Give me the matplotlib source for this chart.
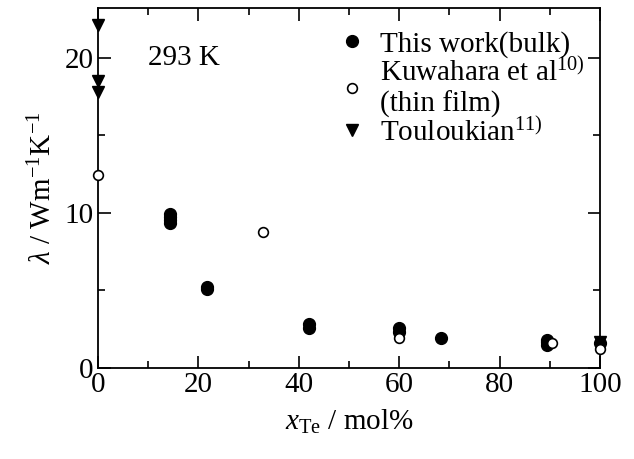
import matplotlib.pyplot as plt
from matplotlib.ticker import MultipleLocator

plt.rcParams['font.family'] = 'Liberation Serif'
plt.rcParams['mathtext.fontset'] = 'custom'
plt.rcParams['mathtext.rm'] = 'Liberation Serif'
plt.rcParams['mathtext.it'] = 'Liberation Serif:italic'

# This work (bulk)
bulk_x = [14.3, 14.3, 14.3, 14.3, 21.7, 21.7, 42, 42, 60, 60, 68.3, 89.5, 89.5, 89.5, 100]
bulk_y = [9.35, 9.55, 9.75, 9.95, 5.1, 5.2, 2.6, 2.85, 2.35, 2.55, 1.9, 1.5, 1.65, 1.8, 1.6]

# Kuwahara et al (thin film)
film_x = [0, 32.9, 60, 90.4, 100]
film_y = [12.45, 8.75, 1.9, 1.6, 1.25]

# Touloukian
tou_x = [0, 0, 0, 100]
tou_y = [22.1, 18.5, 17.8, 1.7]

fs = 21

fig = plt.figure(figsize=(6.34, 4.59), dpi=100)
ax = fig.add_axes([0.1546, 0.1983, 0.7918, 0.7843])

ax.plot(bulk_x, bulk_y, 'o', color='black', ms=8.5, label='This work(bulk)', clip_on=False)
ax.plot(film_x, film_y, 'o', mfc='white', mec='black', mew=1.2, ms=7,
        label='Kuwahara et al$^{10)}$\n(thin film)', clip_on=False, zorder=4)
ax.plot(tou_x, tou_y, 'v', color='black', ms=9, label='Touloukian$^{11)}$', clip_on=False)

ax.set_xlim(0, 100)
ax.set_ylim(0, 23.2)
ax.xaxis.set_major_locator(MultipleLocator(20))
ax.xaxis.set_minor_locator(MultipleLocator(10))
ax.yaxis.set_major_locator(MultipleLocator(10))
ax.yaxis.set_minor_locator(MultipleLocator(5))
ax.tick_params(which='both', direction='in', top=True, right=True, labelsize=fs, width=1.2)
ax.tick_params(which='major', length=9, pad=3)
ax.tick_params(which='minor', length=5)
for s in ax.spines.values():
    s.set_linewidth(1.3)

ax.set_xlabel('$x_{\\rm Te}$ / mol%', fontsize=fs, labelpad=7)
ax.set_ylabel('$\\it{\\lambda}$ / Wm$^{-1}$K$^{-1}$', fontsize=fs, labelpad=5)

ax.text(10, 20, '293 K', fontsize=fs, va='center')

ax.legend(loc='upper left', frameon=False, fontsize=fs, handletextpad=0.46,
          borderpad=0, borderaxespad=0, labelspacing=0.0, handlelength=1.0,
          bbox_to_anchor=(0.477, 0.936))

fig.savefig('out.png', dpi=100)
